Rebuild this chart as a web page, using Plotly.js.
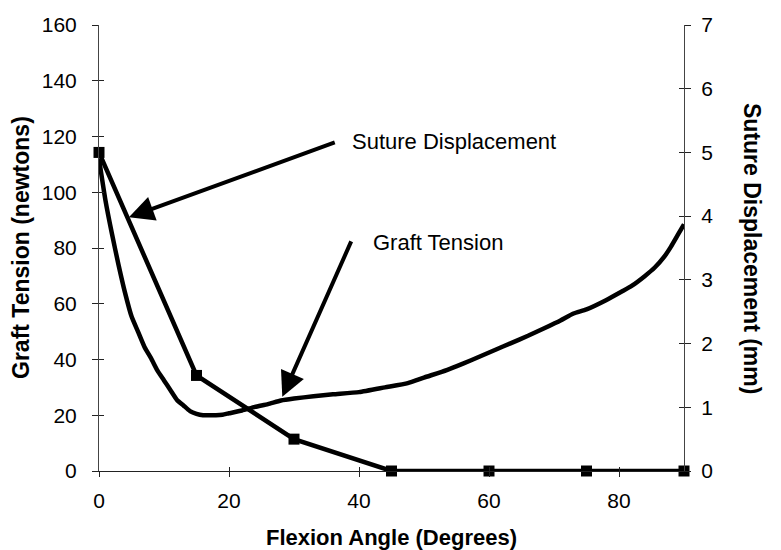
<!DOCTYPE html>
<html>
<head>
<meta charset="utf-8">
<script src="https://cdn.plot.ly/plotly-3.0.1.min.js"></script>
<style>html,body{margin:0;padding:0;background:#fff}#chart{width:781px;height:550px}</style>
</head>
<body>
<div id="chart"></div>
<script>
// Graft tension (left axis, newtons) vs flexion angle
var tensionAngle = [0,1,2,3,4,5,6,7,8,9,10,11,12,13,14,15,16,17,18,19,20,22,24,26,28,30,33,36,40,44,47.5,50,53.5,56,58.5,61,63.3,66,68.5,71,73,75,78,80.5,82,84,85.5,87,88,89,90];
var tensionValue = [112,97,85,74,64,55.5,50,44.5,40.5,36,32.5,29,25.5,23.5,21.5,20.5,20,20,20,20.2,20.7,21.7,23,24,25.3,26,26.8,27.5,28.3,30,31.5,33.5,36.2,38.5,41,43.5,45.8,48.5,51.2,54,56.5,58,61.3,64.5,66.5,70,73,77,80.5,84.5,88.5];
// Suture displacement (right axis, mm)
var sutureAngle = [0,15,30,45,60,75,90];
var sutureValue = [5.0,1.5,0.5,0,0,0,0];
// Axis ticks
var xTicks = [0,20,40,60,80];
var yTicks = [0,20,40,60,80,100,120,140,160];
var y2Ticks = [0,1,2,3,4,5,6,7];
var labels = {
  x: 'Flexion Angle (Degrees)',
  y: 'Graft Tension (newtons)',
  y2: 'Suture Displacement (mm)',
  suture: 'Suture Displacement',
  tension: 'Graft Tension'
};

var FONT = 'Liberation Sans, Arial, sans-serif';
var traces = [
  {x: tensionAngle, y: tensionValue, xaxis:'x', yaxis:'y', mode:'lines',
   line:{color:'#000', width:4.5, shape:'spline', smoothing:0.5}, cliponaxis:false, hoverinfo:'skip'},
  {x: sutureAngle, y: sutureValue, xaxis:'x', yaxis:'y2', mode:'lines+markers',
   line:{color:'#000', width:4.5}, marker:{symbol:'square', size:11, color:'#000'}, cliponaxis:false, hoverinfo:'skip'},
  // invisible carriers for the inner half of the crossing ticks
  {x: sutureAngle, y: sutureValue, xaxis:'x2', yaxis:'y3', mode:'markers', marker:{opacity:0}, hoverinfo:'skip'},
  {x: sutureAngle, y: sutureValue, xaxis:'x2', yaxis:'y4', mode:'markers', marker:{opacity:0}, hoverinfo:'skip'}
];

var tickFont = {family: FONT, size: 21, color:'#000'};
var titleFont = {family: FONT, size: 23, color:'#000', weight:'bold'};
var layout = {
  width: 781, height: 550,
  margin: {l: 99, r: 97, t: 25, b: 79},
  paper_bgcolor:'#fff', plot_bgcolor:'#fff',
  showlegend: false,
  xaxis: {range:[0,90], tickvals:xTicks, ticks:'outside', ticklen:5, tickcolor:'#222', tickwidth:1,
    showline:true, linecolor:'#222', linewidth:1, showgrid:false, zeroline:false,
    tickfont: tickFont, ticklabelstandoff: 6,
    title:{text: labels.x, font:{family: FONT, size:22, color:'#000', weight:'bold'}, standoff: 20}},
  yaxis: {range:[0,160], tickvals:yTicks, ticks:'outside', ticklen:6, tickcolor:'#222', tickwidth:1,
    showline:true, linecolor:'#444', linewidth:1, showgrid:false, zeroline:false,
    tickfont: tickFont, ticklabelstandoff: 11},
  yaxis2: {range:[0,7], tickvals:y2Ticks, overlaying:'y', side:'right', anchor:'x', ticks:'outside', ticklen:6,
    tickcolor:'#222', tickwidth:1, showline:true, linecolor:'#444', linewidth:1, showgrid:false, zeroline:false,
    tickfont: tickFont, ticklabelstandoff: 6},
  xaxis2: {range:[0,90], tickvals:xTicks, overlaying:'x', side:'bottom', anchor:'y3', ticks:'inside', ticklen:4,
    tickcolor:'#222', showticklabels:false, showline:false, showgrid:false, zeroline:false},
  yaxis3: {range:[0,160], tickvals:yTicks, overlaying:'y', side:'left', anchor:'x2', ticks:'inside', ticklen:5,
    tickcolor:'#222', showticklabels:false, showline:false, showgrid:false, zeroline:false},
  yaxis4: {range:[0,7], tickvals:y2Ticks, overlaying:'y', side:'right', anchor:'x2', ticks:'inside', ticklen:5,
    tickcolor:'#222', showticklabels:false, showline:false, showgrid:false, zeroline:false},
  annotations: [
    {xref:'x', yref:'y', x:4.6, y:91, axref:'x', ayref:'y', ax:36.5, ay:118.1, text:'', showarrow:true,
     arrowhead:2, arrowsize:1.25, arrowwidth:4, arrowcolor:'#000'},
    {xref:'x', yref:'y', x:38.6, y:118.1, text: labels.suture, showarrow:false, xanchor:'left', yanchor:'middle',
     font:{family: FONT, size:22, color:'#000'}},
    {xref:'x', yref:'y', x:28.2, y:26.6, axref:'x', ayref:'y', ax:38.9, ay:82.9, text:'', showarrow:true,
     arrowhead:2, arrowsize:1.25, arrowwidth:4, arrowcolor:'#000'},
    {xref:'x', yref:'y', x:41.8, y:81.8, text: labels.tension, showarrow:false, xanchor:'left', yanchor:'middle',
     font:{family: FONT, size:22, color:'#000'}},
    {xref:'paper', yref:'paper', x:0, xshift:-78, y:0.5, text: labels.y, textangle:-90, showarrow:false,
     xanchor:'center', yanchor:'middle', font: titleFont},
    {xref:'paper', yref:'paper', x:1, xshift:68, y:0.5, text: labels.y2, textangle:90, showarrow:false,
     xanchor:'center', yanchor:'middle', font: titleFont}
  ]
};
Plotly.newPlot('chart', traces, layout, {displayModeBar:false, staticPlot:true});
</script>
</body>
</html>
